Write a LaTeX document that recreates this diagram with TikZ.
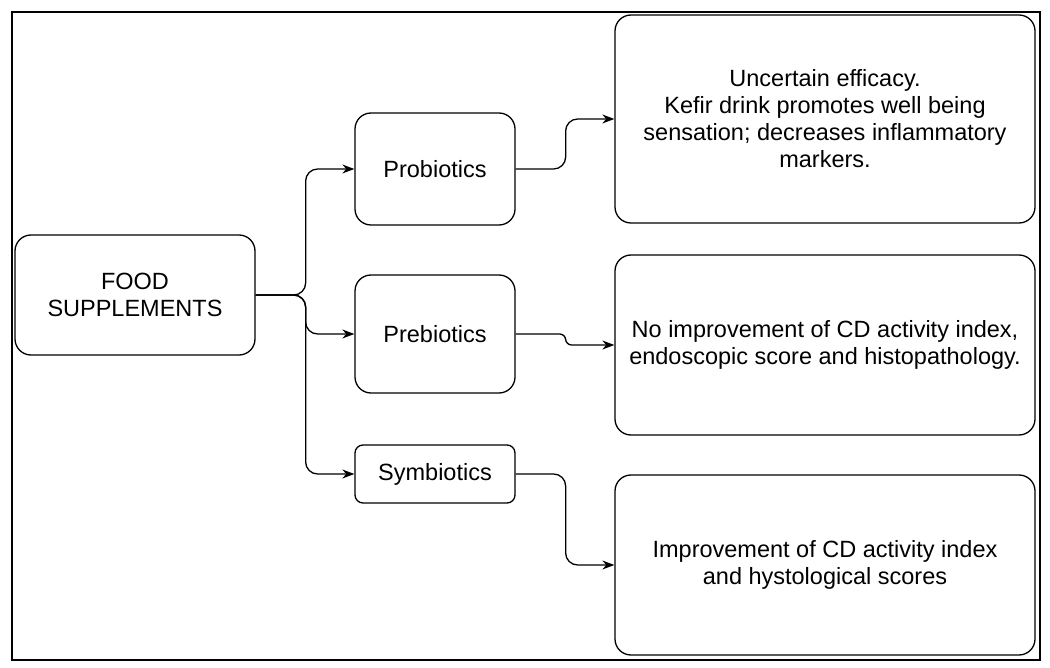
\documentclass[tikz,border=0pt]{standalone}
\usepackage{fontspec}
\setmainfont{Liberation Sans}
\usetikzlibrary{arrows.meta}
\begin{document}
\begin{tikzpicture}[x=1pt,y=-1pt,
 box/.style={draw,line width=1.3pt,rounded corners=16pt,align=center,font=\fontsize{23.5}{27}\selectfont,inner sep=0pt},
 conn/.style={line width=1.3pt,rounded corners=12pt,-{Stealth[length=12pt,width=9pt]}}]
\useasboundingbox (0,0) rectangle (1050,668);
\draw[line width=2pt] (12,12) rectangle (1040,660);
\node[box,minimum width=240pt,minimum height=120pt] (food) at (135,295) {FOOD\\SUPPLEMENTS};
\node[box,minimum width=160pt,minimum height=112pt] (pro) at (435,169) {Probiotics};
\node[box,minimum width=160pt,minimum height=118pt] (pre) at (435,334) {Prebiotics};
\node[box,rounded corners=8pt,minimum width=160pt,minimum height=58pt] (sym) at (435,474) {Symbiotics};
\node[box,minimum width=420pt,minimum height=208pt] (r1) at (825,119) {Uncertain efficacy.\\Kefir drink promotes well being\\sensation; decreases inflammatory\\markers.};
\node[box,minimum width=420pt,minimum height=180pt] (r2) at (825,345) {No improvement of CD activity index,\\endoscopic score and histopathology.};
\node[box,minimum width=420pt,minimum height=180pt] (r3) at (825,565) {Improvement of CD activity index\\and hystological scores};
\draw[conn] (food.east) -- ++(50,0) |- (pro.west);
\draw[conn] (food.east) -- ++(50,0) |- (pre.west);
\draw[conn] (food.east) -- ++(50,0) |- (sym.west);
\draw[conn] (pro.east) -- ++(50,0) |- (r1.west);
\draw[conn,rounded corners=6pt] (pre.east) -- ++(50,0) |- (r2.west);
\draw[conn] (sym.east) -- ++(50,0) |- (r3.west);
\end{tikzpicture}
\end{document}
